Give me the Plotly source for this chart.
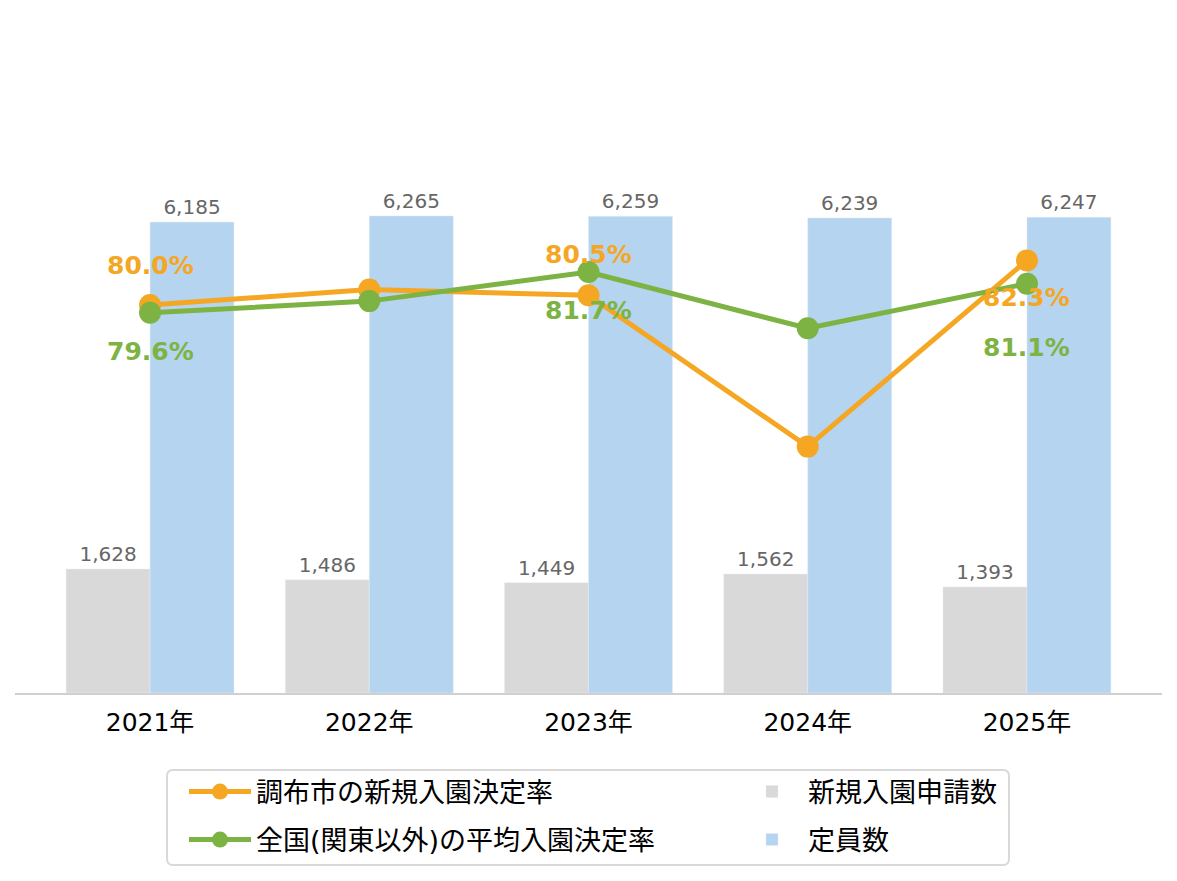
import plotly.graph_objects as go

years = ["2021年", "2022年", "2023年", "2024年", "2025年"]
applications = [1628, 1486, 1449, 1562, 1393]
capacity = [6185, 6265, 6259, 6239, 6247]
chofu_rate = [80.0, 80.8, 80.5, 72.7, 82.3]
national_rate = [79.6, 80.2, 81.7, 78.8, 81.1]
labeled_idx = [0, 2, 4]

FONT = "DejaVu Sans, Noto Sans CJK JP, sans-serif"
C_GRAY = "#d9d9d9"
C_BLUE = "#b4d4ef"
C_ORANGE = "#f5a623"
C_GREEN = "#7cb342"
C_LABEL = "#666666"

W, HT = 1177, 881
L, R, T, B = 15, 15, 13, 188
PW = W - L - R
PH = HT - T - B


def px_x(p):
    return (p - L) / PW


def px_y(p):
    return (HT - B - p) / PH


def rounded_box(x0, y0, x1, y1, r):
    # x/y in pixels (y downward) -> SVG path in paper coordinates
    pts = [
        ("M", px_x(x0 + r), px_y(y0)),
        ("L", px_x(x1 - r), px_y(y0)),
        ("Q", px_x(x1), px_y(y0), px_x(x1), px_y(y0 + r)),
        ("L", px_x(x1), px_y(y1 - r)),
        ("Q", px_x(x1), px_y(y1), px_x(x1 - r), px_y(y1)),
        ("L", px_x(x0 + r), px_y(y1)),
        ("Q", px_x(x0), px_y(y1), px_x(x0), px_y(y1 - r)),
        ("L", px_x(x0), px_y(y0 + r)),
        ("Q", px_x(x0), px_y(y0), px_x(x0 + r), px_y(y0)),
    ]
    out = []
    for p in pts:
        cmd, vals = p[0], p[1:]
        coords = " ".join(f"{vals[j]:.5f},{vals[j + 1]:.5f}" for j in range(0, len(vals), 2))
        out.append(f"{cmd} {coords}")
    return " ".join(out) + " Z"


fig = go.Figure()
fig.add_trace(go.Bar(
    x=years, y=applications, name="新規入園申請数", marker_color=C_GRAY,
    text=[f"{v:,}" for v in applications], textposition="outside",
    textfont=dict(size=20, color=C_LABEL, family=FONT), cliponaxis=False,
    legend="legend2",
))
fig.add_trace(go.Bar(
    x=years, y=capacity, name="定員数", marker_color=C_BLUE,
    text=[f"{v:,}" for v in capacity], textposition="outside",
    textfont=dict(size=20, color=C_LABEL, family=FONT), cliponaxis=False,
    legend="legend4",
))
fig.add_trace(go.Scatter(
    x=years, y=chofu_rate, name="調布市の新規入園決定率", yaxis="y2",
    mode="lines+markers", line=dict(color=C_ORANGE, width=5),
    marker=dict(size=22, color=C_ORANGE), cliponaxis=False,
    legend="legend",
))
fig.add_trace(go.Scatter(
    x=years, y=national_rate, name="全国(関東以外)の平均入園決定率", yaxis="y2",
    mode="lines+markers", line=dict(color=C_GREEN, width=5),
    marker=dict(size=22, color=C_GREEN), cliponaxis=False,
    legend="legend3",
))

orange_shift = [40, 41, -37]
green_shift = [-39, -38, -64]
annotations = []
for k, i in enumerate(labeled_idx):
    annotations.append(dict(
        x=years[i], y=chofu_rate[i], xref="x", yref="y2", showarrow=False,
        text=f"{chofu_rate[i]:.1f}%", yshift=orange_shift[k],
        font=dict(size=25, color=C_ORANGE, family=FONT, weight="bold"),
    ))
    annotations.append(dict(
        x=years[i], y=national_rate[i], xref="x", yref="y2", showarrow=False,
        text=f"{national_rate[i]:.1f}%", yshift=green_shift[k],
        font=dict(size=25, color=C_GREEN, family=FONT, weight="bold"),
    ))

legend_common = dict(
    orientation="h", xanchor="left", yanchor="middle",
    borderwidth=0, bgcolor="rgba(0,0,0,0)",
    font=dict(size=27, family=FONT, color="black"),
    itemwidth=62,
)

fig.update_layout(
    width=W, height=HT,
    margin=dict(l=L, r=R, t=T, b=B, autoexpand=False),
    paper_bgcolor="white", plot_bgcolor="white",
    font=dict(family=FONT, color="black"),
    barmode="group", bargap=0.234, bargroupgap=0,
    showlegend=True,
    xaxis=dict(
        type="category", range=[-0.616, 4.616], showgrid=False,
        showline=True, linecolor="#d0d0d0", linewidth=2,
        ticks="outside", ticklen=6, tickcolor="rgba(0,0,0,0)",
        tickfont=dict(size=25, color="black", family=FONT),
    ),
    yaxis=dict(range=[0, PH / (471 / 6185)], visible=False, showgrid=False),
    yaxis2=dict(range=[60, 60 + PH / 19.4], overlaying="y", visible=False,
                showgrid=False),
    legend=dict(x=px_x(184), y=px_y(792), **legend_common),
    legend2=dict(x=px_x(736), y=px_y(792), **legend_common),
    legend3=dict(x=px_x(184), y=px_y(840), **legend_common),
    legend4=dict(x=px_x(736), y=px_y(840), **legend_common),
    shapes=[dict(
        type="path", xref="paper", yref="paper",
        path=rounded_box(167, 770, 1009, 865, 6),
        line=dict(color="#d9d9d9", width=2), fillcolor="rgba(0,0,0,0)",
        layer="below",
    )],
    annotations=annotations,
)

fig.write_html("out.html", post_script="document.body.style.margin='0';",
               config={"displayModeBar": False})
